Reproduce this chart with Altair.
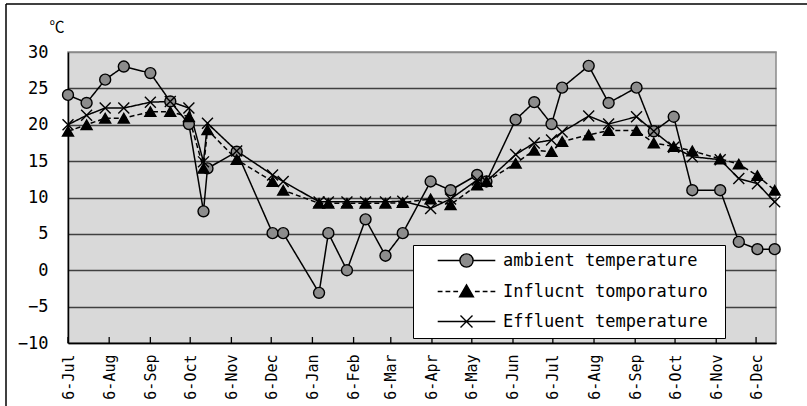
import altair as alt
import pandas as pd

# ---- data ----
dates = ["2008-07-06", "2008-07-20", "2008-08-03", "2008-08-17", "2008-09-06", "2008-09-21",
         "2008-10-05", "2008-10-16", "2008-10-19", "2008-11-10", "2008-12-07", "2008-12-15",
         "2009-01-11", "2009-01-18", "2009-02-01", "2009-02-15", "2009-03-02", "2009-03-15",
         "2009-04-05", "2009-04-20", "2009-05-10", "2009-05-17", "2009-06-08", "2009-06-22",
         "2009-07-05", "2009-07-13", "2009-08-02", "2009-08-17", "2009-09-07", "2009-09-20",
         "2009-10-05", "2009-10-19", "2009-11-09", "2009-11-23", "2009-12-07", "2009-12-20"]
ambient = [24.1, 23.0, 26.2, 28.0, 27.1, 23.2, 20.1, 8.1, 14.0, 16.3, 5.1, 5.1,
           -3.1, 5.1, 0.0, 7.0, 2.0, 5.1, 12.2, 11.0, 13.1, 12.2, 20.7, 23.1,
           20.1, 25.1, 28.1, 23.0, 25.1, 19.1, 21.1, 11.0, 11.0, 3.9, 2.9, 2.9]
influent = [19.1, 20.0, 20.9, 20.9, 21.8, 21.8, 21.1, 14.0, 19.3, 15.2, 12.2, 11.0,
            9.2, 9.2, 9.2, 9.2, 9.2, 9.3, 9.8, 9.0, 11.7, 12.2, 14.7, 16.5,
            16.3, 17.7, 18.6, 19.2, 19.2, 17.5, 17.0, 16.4, 15.3, 14.6, 13.0, 11.0]
effluent = [20.0, 21.3, 22.3, 22.3, 23.1, 23.2, 22.3, 14.9, 20.2, 16.4, 13.1, 12.2,
            9.4, 9.4, 9.4, 9.4, 9.4, 9.5, 8.5, 9.8, 12.4, 12.2, 15.9, 17.5,
            17.9, 19.0, 21.2, 20.1, 21.1, 19.1, 16.9, 15.6, 15.2, 12.6, 11.9, 9.4]
series_names = ["ambient temperature", "Influcnt tomporaturo", "Effluent temperature"]
tick_dates = ["2008-07-06", "2008-08-06", "2008-09-06", "2008-10-06", "2008-11-06", "2008-12-06",
              "2009-01-06", "2009-02-06", "2009-03-06", "2009-04-06", "2009-05-06", "2009-06-06",
              "2009-07-06", "2009-08-06", "2009-09-06", "2009-10-06", "2009-11-06", "2009-12-06"]
y_ticks = [-10, -5, 0, 5, 10, 15, 20, 25, 30]
y_unit = "℃"

rows = []
for name, vals in zip(series_names, [ambient, influent, effluent]):
    for d, v in zip(dates, vals):
        rows.append({"date": d + "T00:00:00", "value": v, "series": name})
df = pd.DataFrame(rows)
ticks_df = pd.DataFrame({"date": [d + "T00:00:00" for d in tick_dates]})

W, H = 708, 291
MONO = "DejaVu Sans Mono"


def dt(s):
    y, m, d = (int(p) for p in s.split("-"))
    return alt.DateTime(year=y, month=m, date=d)


x_scale = alt.Scale(domain=[dt("2008-07-06"), dt("2009-12-21")])
y_scale = alt.Scale(domain=[-10, 30], nice=False, zero=False)

x_axis = alt.Axis(values=[dt(s) for s in tick_dates], format="%-d-%b", labelAngle=-90,
                  labelFont=MONO, labelFontSize=15, labelColor="black", labelPadding=11,
                  labelFlush=False, labelOverlap=False, ticks=False, grid=False,
                  domainColor="black", domainWidth=1.5, title=None)
y_axis = alt.Axis(values=y_ticks, labelFont=MONO, labelFontSize=17, labelColor="black",
                  labelPadding=20, labelOverlap=False, ticks=False, grid=True,
                  gridColor=alt.condition("datum.value == 30", alt.value("#8a8a8a"), alt.value("#404040")),
                  gridWidth=1.3, domainColor="black", domainWidth=1.5,
                  title=y_unit, titleAngle=0, titleAlign="left", titleBaseline="alphabetic",
                  titleX=-19, titleY=-21, titleFont="Noto Sans CJK JP", titleFontSize=15,
                  titleFontWeight="normal", titleColor="black")

X = alt.X("date:T", scale=x_scale, axis=x_axis)
Y = alt.Y("value:Q", scale=y_scale, axis=y_axis)

base = alt.Chart(df).encode(x=X, y=Y)

lines = base.mark_line(color="black", strokeWidth=1.5).encode(
    strokeDash=alt.StrokeDash("series:N", scale=alt.Scale(domain=series_names,
                              range=[[1, 0], [5, 3], [1, 0]]), legend=None),
    order=alt.Order("date:T"),
)

points = base.mark_point(filled=True, stroke="black", strokeWidth=1.4, size=120, opacity=1).encode(
    shape=alt.Shape("series:N", scale=alt.Scale(domain=series_names,
                    range=["circle", "triangle-up", "M-1,-1L1,1M-1,1L1,-1"]), legend=None),
    fill=alt.Fill("series:N", scale=alt.Scale(domain=series_names,
                  range=["#8c8c8c", "black", "transparent"]), legend=None),
)

amb_sym = "M-4.8,0H-1.1M1.1,0H4.8M1.1,0A1.1,1.1 0 1,1 -1.1,0A1.1,1.1 0 1,1 1.1,0Z"
inf_sym = ("M-4.8,0H-4M-3.5,0H-2.7M-2.2,0H-1.4M1.4,0H2.2M2.7,0H3.5M4,0H4.8"
           "M0,-1.1L1.15,0.9L-1.15,0.9Z")
eff_sym = "M-4.8,0H4.8M-1,-1L1,1M-1,1L1,-1"

leg = alt.Legend(orient="none", legendX=345, legendY=193, padding=7,
                 fillColor="white", strokeColor="black", cornerRadius=0,
                 symbolSize=144, symbolOffset=38, symbolStrokeWidth=1.4,
                 symbolStrokeColor="black", labelOffset=28, labelFont=MONO,
                 labelFontSize=17, labelColor="black", rowPadding=12, labelLimit=400,
                 labelExpr="datum.label + '\u00a0\u200b'")

legend_layer = base.transform_filter("false").mark_point(
    filled=True, strokeWidth=1.4, size=144, opacity=1).encode(
    shape=alt.Shape("series:N", title=None, scale=alt.Scale(domain=series_names,
                    range=[amb_sym, inf_sym, eff_sym]), legend=leg),
    fill=alt.Fill("series:N", title=None, scale=alt.Scale(domain=series_names,
                  range=["#8c8c8c", "black", "transparent"]), legend=leg),
    stroke=alt.Stroke("series:N", title=None, scale=alt.Scale(domain=series_names,
                      range=["black", "black", "black"]), legend=leg),
)

month_ticks = alt.Chart(ticks_df).mark_rule(color="black", strokeWidth=1.3).encode(
    x=X, y=alt.value(H - 6), y2=alt.value(H))

frame_top = alt.Chart(alt.Data(values=[{}])).mark_rule(color="black", strokeWidth=1.5).encode(
    x=alt.value(-62), x2=alt.value(807 - 68), y=alt.value(-48))
frame_left = alt.Chart(alt.Data(values=[{}])).mark_rule(color="black", strokeWidth=1.5).encode(
    x=alt.value(-62), y=alt.value(-48), y2=alt.value(406 - 52))

chart = alt.layer(lines, points, month_ticks, legend_layer, frame_top, frame_left).resolve_scale(
    shape="independent", fill="independent", stroke="independent"
).properties(
    width=W, height=H,
    padding={"left": 68, "top": 52, "right": 31, "bottom": 63},
    autosize=alt.AutoSizeParams(type="none"),
    background="white",
).configure_view(
    fill="#d9d9d9", stroke="#8a8a8a", strokeWidth=1.5
)

chart.save("out.html", embed_options={"renderer": "svg", "actions": False})
